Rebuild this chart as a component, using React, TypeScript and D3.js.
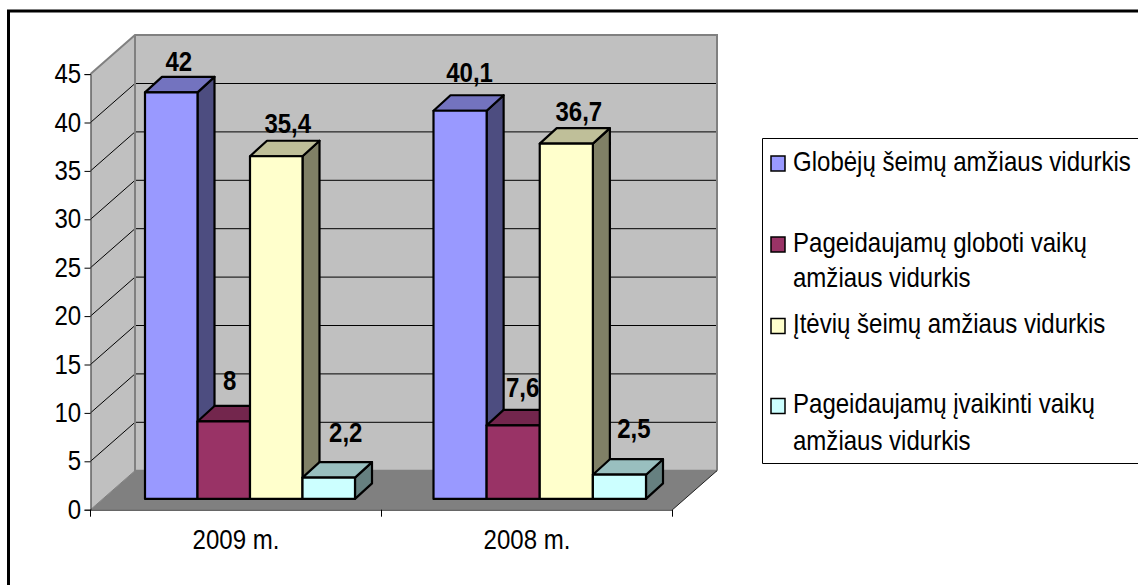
import { useEffect, useRef } from 'react';
import * as d3 from 'd3';

const categories = ['2009 m.', '2008 m.'];
const seriesNames = [
  'Globėjų šeimų amžiaus vidurkis',
  'Pageidaujamų globoti vaikų amžiaus vidurkis',
  'Įtėvių šeimų amžiaus vidurkis',
  'Pageidaujamų įvaikinti vaikų amžiaus vidurkis',
];
const values2009 = [42, 8, 35.4, 2.2];
const values2008 = [40.1, 7.6, 36.7, 2.5];
const seriesByCategory = [values2009, values2008];
const yTicks = [0, 5, 10, 15, 20, 25, 30, 35, 40, 45];

const frontColors = ['#9999ff', '#993366', '#ffffcc', '#ccffff'];
const topColors = ['#7373bf', '#73264d', '#bfbf99', '#99bfbf'];
const sideColors = ['#4d4d80', '#4d1a33', '#808066', '#668080'];

// hand placed nudges for the data labels, per category and series
const labelNudges = [
  [[-1, -6], [-2.5, -16], [3, -8], [8.5, -20]],
  [[1, -13], [1, -12.5], [4, -7], [6, -21]],
];

// legend rows: wrapped lines with their baselines
const legendLines = [
  ['Globėjų šeimų amžiaus vidurkis'],
  ['Pageidaujamų globoti vaikų', 'amžiaus vidurkis'],
  ['Įtėvių šeimų amžiaus vidurkis'],
  ['Pageidaujamų įvaikinti vaikų', 'amžiaus vidurkis'],
];
const legendBaselines = [[170.5], [251.5, 287], [333], [413, 450]];

const font = '"Liberation Sans", Arial, sans-serif';
const fontSize = 27;
const squeeze = 'scale(0.89,1)'; // the source text is tall and narrow
const fmt = (v: number) => String(v).replace('.', ',');

export default function App() {
  const svgRef = useRef<SVGSVGElement>(null);

  useEffect(() => {
    if (!svgRef.current) return;
    const svg = d3.select(svgRef.current);
    svg.selectAll('*').remove();

    // outer frame, open on the right and bottom
    svg.append('path').attr('d', 'M1138,11H8.5V585').attr('fill', 'none').attr('stroke', '#000').attr('stroke-width', 3);

    const left = 90.5;
    const right = 672.5;
    const wallDx = 44.5;
    const wallDy = -39;

    const y = d3.scaleLinear().domain([0, 45]).range([509.7, 74.1]);
    const x = d3.scaleBand<string>().domain(categories).range([left, right]);

    const y0 = y(0);
    const yTop = y(45);

    // walls and floor
    svg.append('polygon')
      .attr('points', `${left},${y0} ${left + wallDx},${y0 + wallDy} ${left + wallDx},${yTop + wallDy} ${left},${yTop}`)
      .attr('fill', '#c0c0c0');
    svg.append('rect')
      .attr('x', left + wallDx).attr('y', yTop + wallDy)
      .attr('width', right - left).attr('height', y0 - yTop)
      .attr('fill', '#c0c0c0');
    svg.append('polygon')
      .attr('points', `${left},${y0} ${right},${y0} ${right + wallDx},${y0 + wallDy} ${left + wallDx},${y0 + wallDy}`)
      .attr('fill', '#808080');

    // gridlines along side wall and back wall
    const grid = svg.append('g').attr('fill', 'none').attr('stroke', '#000').attr('stroke-width', 1);
    yTicks.slice(1, -1).forEach((t) => {
      grid.append('path').attr('d', `M${left},${y(t)}L${left + wallDx},${y(t) + wallDy}H${right + wallDx}`);
    });

    // wall outline
    svg.append('path')
      .attr('d', `M${left},${yTop}L${left + wallDx},${yTop + wallDy}H${right + wallDx}V${y0 + wallDy}`)
      .attr('fill', 'none').attr('stroke', '#808080').attr('stroke-width', 2);
    svg.append('path')
      .attr('d', `M${left + wallDx},${yTop + wallDy}V${y0 + wallDy}H${right + wallDx}`)
      .attr('fill', 'none').attr('stroke', '#808080').attr('stroke-width', 2);
    svg.append('path')
      .attr('d', `M${left},${y0}L${left + wallDx},${y0 + wallDy}`)
      .attr('fill', 'none').attr('stroke', '#808080').attr('stroke-width', 1);
    svg.append('path')
      .attr('d', `M${right},${y0}L${right + wallDx},${y0 + wallDy}`)
      .attr('fill', 'none').attr('stroke', '#222').attr('stroke-width', 1);

    // Axes
    const yAxis = svg.append('g')
      .attr('transform', `translate(${left},0)`)
      .call(d3.axisLeft(y).tickValues(yTicks).tickSize(6).tickPadding(3));
    yAxis.selectAll('text')
      .attr('font-size', fontSize).attr('font-family', font).attr('fill', '#000')
      .attr('x', -10.5).attr('dy', '0.32em').attr('transform', squeeze);
    yAxis.selectAll('line').attr('stroke', '#000');
    yAxis.select('.domain').attr('stroke', '#333');

    const xAxis = svg.append('g')
      .attr('transform', `translate(0,${y0})`)
      .call(d3.axisBottom(x).tickSize(0).tickPadding(20));
    xAxis.selectAll('text')
      .attr('font-size', fontSize).attr('font-family', font).attr('fill', '#000')
      .attr('dy', '0.71em').attr('transform', squeeze);
    xAxis.select('.domain').attr('stroke', '#222');
    [left, x(categories[1])!, right].forEach((px) => {
      xAxis.append('line').attr('x1', px).attr('x2', px).attr('y1', 0).attr('y2', 7).attr('stroke', '#000');
    });

    // Bars. Their front faces sit a little in from the axis plane
    const barFront = d3.scaleBand<string>().domain(categories).range([145, 722]);
    const groupWidths = [210, 212.5];
    const barOffsetY = -10.8;
    const depthX = 17;
    const depthY = -15.5;
    const base = y0 + barOffsetY;

    const barLayout = (ci: number) => {
      const s = d3.scaleBand<string>().domain(seriesNames).range([0, groupWidths[ci]]);
      return { s, bw: s.bandwidth() };
    };

    categories.forEach((cat, ci) => {
      const { s, bw } = barLayout(ci);
      const g = svg.append('g').attr('stroke', '#000').attr('stroke-width', 2.2).attr('stroke-linejoin', 'round');
      seriesByCategory[ci].forEach((v, si) => {
        const bx = barFront(cat)! + s(seriesNames[si])!;
        const top = y(v) + barOffsetY;
        g.append('polygon')
          .attr('points', `${bx + bw},${top} ${bx + bw + depthX},${top + depthY} ${bx + bw + depthX},${base + depthY} ${bx + bw},${base}`)
          .attr('fill', sideColors[si]);
        g.append('polygon')
          .attr('points', `${bx},${top} ${bx + depthX},${top + depthY} ${bx + bw + depthX},${top + depthY} ${bx + bw},${top}`)
          .attr('fill', topColors[si]);
        g.append('rect')
          .attr('x', bx).attr('y', top).attr('width', bw).attr('height', base - top)
          .attr('fill', frontColors[si]);
      });
    });

    // Data labels go on top of everything
    categories.forEach((cat, ci) => {
      const { s, bw } = barLayout(ci);
      seriesByCategory[ci].forEach((v, si) => {
        const bx = barFront(cat)! + s(seriesNames[si])!;
        const [nx, ny] = labelNudges[ci][si];
        const lx = bx + bw / 2 + depthX / 2 + nx;
        const ly = y(v) + barOffsetY + depthY + ny;
        svg.append('text')
          .attr('transform', `translate(${lx},${ly}) ${squeeze}`)
          .attr('text-anchor', 'middle')
          .attr('font-family', font).attr('font-size', fontSize).attr('font-weight', 700)
          .text(fmt(v));
      });
    });

    // Legend
    svg.append('path').attr('d', 'M1138,138.5H762.5V463.5H1138').attr('fill', '#fff').attr('stroke', '#000').attr('stroke-width', 1);
    legendLines.forEach((lines, i) => {
      svg.append('rect')
        .attr('x', 771).attr('y', legendBaselines[i][0] - 14.5)
        .attr('width', 14).attr('height', 15)
        .attr('fill', frontColors[i]).attr('stroke', '#000').attr('stroke-width', 1.5);
      lines.forEach((line, li) => {
        svg.append('text')
          .attr('transform', `translate(793,${legendBaselines[i][li]}) ${squeeze}`)
          .attr('font-family', font).attr('font-size', fontSize)
          .text(line);
      });
    });
  }, []);

  return (
    <svg
      ref={svgRef}
      width={1138}
      height={585}
      style={{ position: 'absolute', left: 0, top: 0, display: 'block', background: '#fff' }}
    />
  );
}
